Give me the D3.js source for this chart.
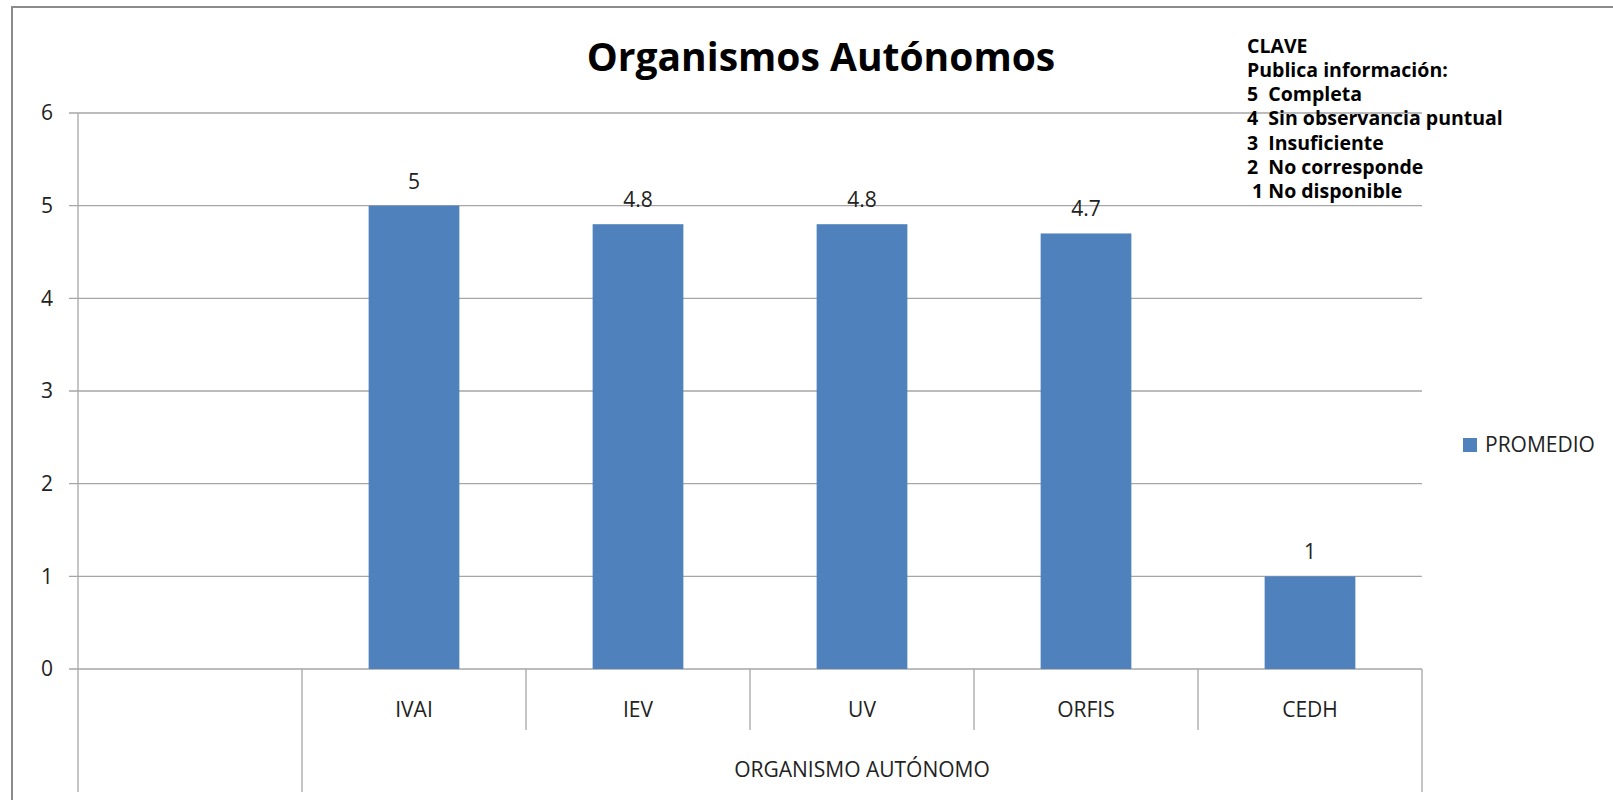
<!DOCTYPE html>
<html>
<head>
<meta charset="utf-8">
<script src="https://cdn.jsdelivr.net/npm/d3@7"></script>
<style>
  body { margin: 0; background: #fff; }
  svg { display: block; font-family: "Open Sans", sans-serif; }
</style>
</head>
<body>
<div id="chart"></div>
<script>
// Data
const categories = ["", "IVAI", "IEV", "UV", "ORFIS", "CEDH"];
const promedio = [null, 5, 4.8, 4.8, 4.7, 1];
const yTicks = [0, 1, 2, 3, 4, 5, 6];
const groupLabel = "ORGANISMO AUTÓNOMO";
const seriesName = "PROMEDIO";
const claveLines = ["CLAVE", "Publica información:", "5  Completa", "4  Sin observancia puntual", "3  Insuficiente", "2  No corresponde", " 1 No disponible"];

const width = 1613;
const height = 800;
const barColor = "#4f81bd";
const gridColor = "#a6a6a6";

let svg = d3.select("#chart").append("svg")
    .attr("width", width)
    .attr("height", height);

// outer frame
svg.append("rect")
    .attr("x", 12).attr("y", 7)
    .attr("width", width + 20).attr("height", height + 20)
    .attr("fill", "none")
    .attr("stroke", "#8c8c8c")
    .attr("stroke-width", 2);

// Scales
let x = d3.scaleBand()
    .domain(d3.range(categories.length))
    .range([78, 1422]);

let y = d3.scaleLinear()
    .domain([0, 6])
    .range([669, 113]);

// gridlines
svg.append("g")
    .selectAll("line")
    .data(yTicks).enter()
    .append("line")
    .attr("x1", 69)
    .attr("x2", x.range()[1])
    .attr("y1", d => y(d))
    .attr("y2", d => y(d))
    .attr("stroke", gridColor)
    .attr("stroke-width", 1.3);

// y axis
let yAxis = d3.axisLeft(y).tickValues(yTicks).tickFormat(d3.format("d")).tickSize(0).tickPadding(25);
let gy = svg.append("g")
    .attr("transform", "translate(78,0)")
    .call(yAxis);
gy.select(".domain").remove();
gy.selectAll("text")
    .attr("font-size", 21)
    .attr("fill", "#222")
    .style("font-family", "Open Sans");

// axis lines
svg.append("line")
    .attr("x1", 78).attr("x2", 78)
    .attr("y1", y(6)).attr("y2", 792)
    .attr("stroke", gridColor).attr("stroke-width", 1.3);

// category dividers
svg.append("g")
    .selectAll("line")
    .data(d3.range(1, categories.length + 1)).enter()
    .append("line")
    .attr("x1", i => i < categories.length ? x(i) : x.range()[1])
    .attr("x2", i => i < categories.length ? x(i) : x.range()[1])
    .attr("y1", y(0))
    .attr("y2", i => (i == 1 || i == categories.length) ? 792 : 730)
    .attr("stroke", gridColor)
    .attr("stroke-width", 1.3);

// bars
let barW = x.bandwidth() * 0.405;
let bars = promedio.map((v, i) => ({i: i, v: v})).filter(d => d.v != null);

svg.append("g")
    .selectAll("rect")
    .data(bars).enter()
    .append("rect")
    .attr("x", d => x(d.i) + (x.bandwidth() - barW) / 2)
    .attr("y", d => y(d.v))
    .attr("width", barW)
    .attr("height", d => y(0) - y(d.v))
    .attr("fill", barColor);

// value labels
svg.append("g")
    .selectAll("text")
    .data(bars).enter()
    .append("text")
    .attr("x", d => x(d.i) + x.bandwidth() / 2)
    .attr("y", d => y(d.v) - 17)
    .attr("text-anchor", "middle")
    .attr("font-size", 21)
    .attr("fill", "#222")
    .text(d => d.v);

// category labels
svg.append("g")
    .selectAll("text")
    .data(categories).enter()
    .append("text")
    .attr("x", (d, i) => x(i) + x.bandwidth() / 2)
    .attr("y", 717)
    .attr("text-anchor", "middle")
    .attr("font-size", 21)
    .attr("fill", "#222")
    .text(d => d);

// group label
svg.append("text")
    .attr("x", (x(1) + x.range()[1]) / 2)
    .attr("y", 777)
    .attr("text-anchor", "middle")
    .attr("font-size", 21)
    .attr("fill", "#222")
    .text(groupLabel);

// title
svg.append("text")
    .attr("x", 821)
    .attr("y", 71)
    .attr("text-anchor", "middle")
    .attr("font-size", 39)
    .attr("font-weight", "bold")
    .attr("fill", "#000")
    .text("Organismos Autónomos");

// clave box
svg.append("g")
    .selectAll("text")
    .data(claveLines).enter()
    .append("text")
    .attr("x", 1247)
    .attr("y", (d, i) => 52.5 + i * 24.3)
    .attr("font-size", 19.5)
    .attr("font-weight", "bold")
    .attr("fill", "#000")
    .attr("xml:space", "preserve")
    .style("white-space", "pre")
    .text(d => d);

// legend
let legend = svg.append("g").attr("transform", "translate(1463,438)");
legend.append("rect")
    .attr("width", 14).attr("height", 14)
    .attr("fill", barColor);
legend.append("text")
    .attr("x", 22)
    .attr("y", 14)
    .attr("font-size", 21)
    .attr("fill", "#222")
    .text(seriesName);
</script>
</body>
</html>
